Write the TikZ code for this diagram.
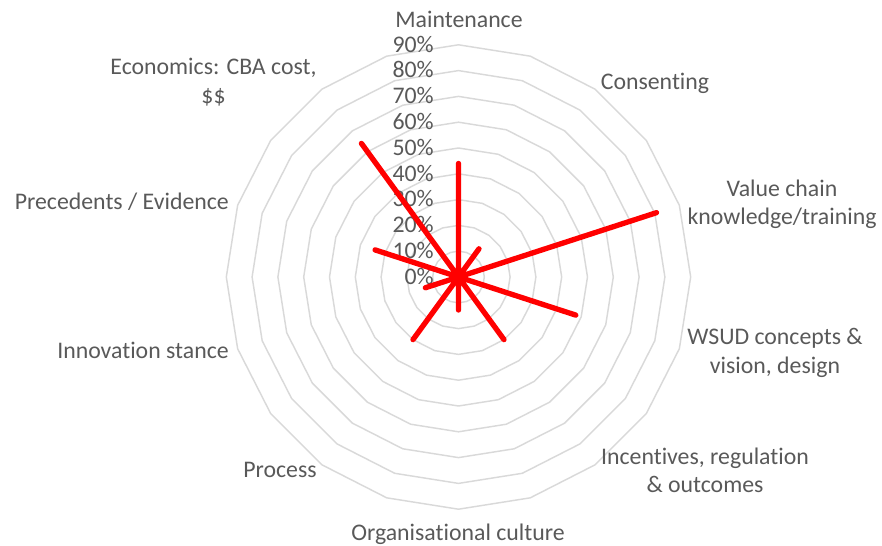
\documentclass[tikz,border=0pt]{standalone}
\usepackage{fontspec}
\setmainfont{Carlito}[Ligatures=NoCommon]
\definecolor{gridgray}{HTML}{D9D9D9}
\definecolor{labelgray}{HTML}{595959}
\begin{document}
\begin{tikzpicture}[x=0.75pt,y=0.75pt,
  ring/.style={draw=gridgray,line width=1.1pt},
  cat label/.style={text=labelgray,inner sep=0pt,align=center,font=\fontsize{17.85}{21.4}\selectfont},
  pct label/.style={text=labelgray,inner sep=0pt,anchor=east,font=\fontsize{17.85}{21.4}\selectfont},
  value line/.style={draw=red,line width=4pt,line cap=round,line join=round}]
\useasboundingbox (-458.5,-269) rectangle (423.5,277);
\coordinate (O) at (0,0);
%rings
\foreach \k in {1,...,9}
  \draw[ring] (90:25.8*\k) \foreach \a in {1,...,19}{ -- (90+18*\a:25.8*\k)} -- cycle;
%scale
\foreach \k in {0,...,9}{
  \pgfmathtruncatemacro\pc{10*\k}
  \node[pct label] (pct\k) at (-24.5,25.8*\k+0.8) {\pc\%};
}
%categories
\node[cat label] (maint) at (0.5,257.5) {Maintenance};
\node[cat label] (consent) at (196.5,193.2) {Consenting};
\node[cat label] (chain) at (323.5,72.5) {Value chain\\knowledge/training};
\node[cat label] (wsud) at (316.5,-76) {WSUD concepts \&\\vision, design};
\node[cat label] (incent) at (246.5,-193.5) {Incentives, regulation\\\& outcomes};
\node[cat label] (culture) at (-0.5,-257.5) {Organisational culture};
\node[cat label] (process) at (-178.5,-193) {Process};
\node[cat label,anchor=east] (innov) at (-229.5,-73) {Innovation stance};
\node[cat label,anchor=east] (preced) at (-229.5,75) {Precedents / Evidence};
\node[cat label] (econ) at (-245,195) {Economics: CBA cost,\\\$\$};
%values
\foreach \a/\v [count=\i] in {90/44,54/13.5,18/80.7,-18/47.8,-54/30,-90/12.8,-126/30,-162/13.5,162/34,126/64}
  \coordinate (v\i) at (\a:2.58*\v);
\draw[value line] (O) \foreach \i in {1,...,10}{ -- (v\i) -- (O)};
\end{tikzpicture}
\end{document}
